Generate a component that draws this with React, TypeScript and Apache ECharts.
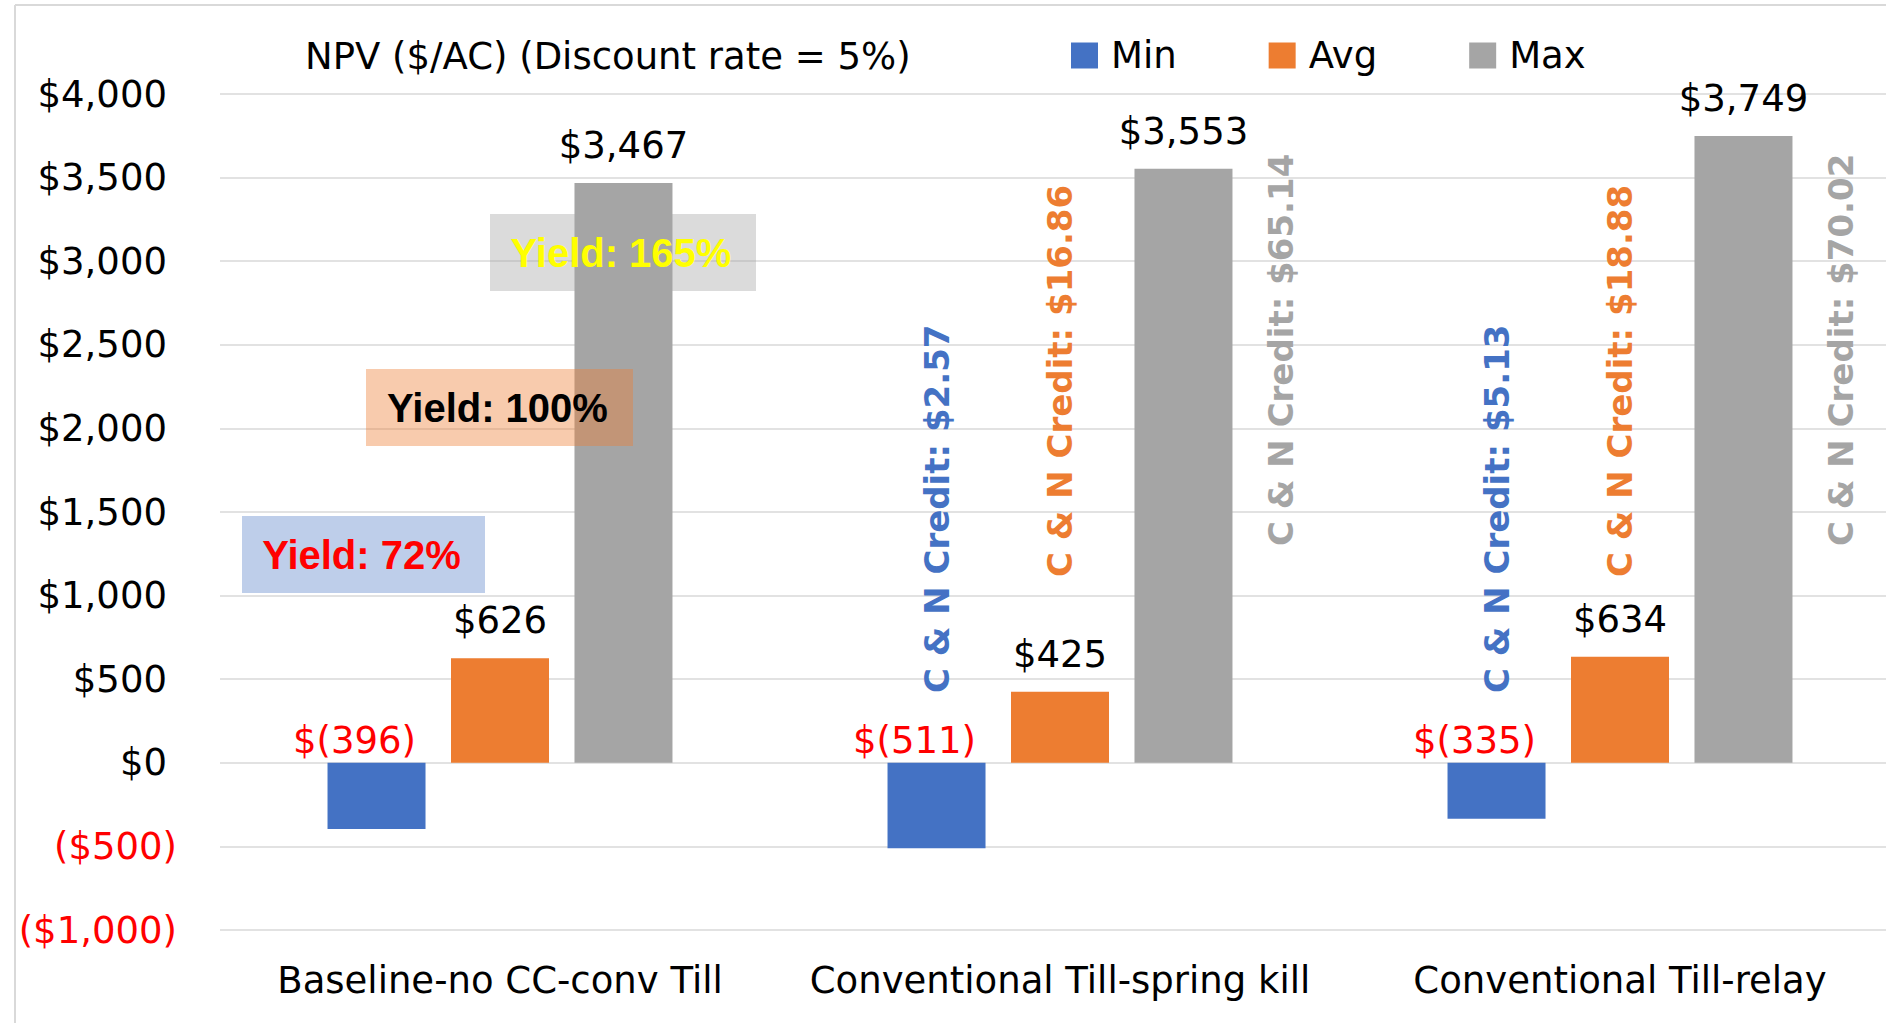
import React, { useEffect, useRef } from "react";
import * as echarts from "echarts";

// NPV per acre for three tillage / cover-crop systems
const categories = [
  "Baseline-no CC-conv Till",
  "Conventional Till-spring kill",
  "Conventional Till-relay",
];
const seriesNames = ["Min", "Avg", "Max"];
const minValues = [-396, -511, -335];
const avgValues = [626, 425, 634];
const maxValues = [3467, 3553, 3749];

// Carbon & nitrogen credit per scenario (none for the baseline)
const creditMin: (number | null)[] = [null, 2.57, 5.13];
const creditAvg: (number | null)[] = [null, 16.86, 18.88];
const creditMax: (number | null)[] = [null, 65.14, 70.02];

const yieldNotes = ["Yield: 72%", "Yield: 100%", "Yield: 165%"];

const yMin = -1000;
const yMax = 4000;
const yStep = 500;

const COLORS = ["#4472C4", "#ED7D31", "#A5A5A5"];
const FONT = '"DejaVu Sans", sans-serif';

const fmtThousands = (v: number) => Math.abs(v).toLocaleString("en-US");

export default function App() {
  const ref = useRef<HTMLDivElement>(null);

  useEffect(() => {
    if (!ref.current) return;
    const chart = echarts.init(ref.current, null, { renderer: "svg" });

    const valueLabel = {
      show: true,
      position: "top",
      distance: 19,
      color: "#000",
      fontSize: 37,
      fontFamily: FONT,
      formatter: (p: any) => `$${fmtThousands(p.value)}`,
    };

    const option: any = {
      animation: false,
      backgroundColor: "#fff",
      textStyle: { fontFamily: FONT },
      title: {
        text: "NPV ($/AC) (Discount rate = 5%)",
        left: 300,
        top: 33,
        textStyle: { fontSize: 37, fontWeight: "normal", color: "#000", fontFamily: FONT },
      },
      legend: {
        data: seriesNames,
        left: 1071,
        top: 37,
        padding: 0,
        itemWidth: 27,
        itemHeight: 26,
        itemGap: 92,
        icon: "rect",
        textStyle: { fontSize: 37, color: "#000", fontFamily: FONT, padding: [0, 0, 0, 8] },
      },
      grid: { left: 220, right: 0, top: 94, bottom: 93, containLabel: false },
      xAxis: {
        type: "category",
        data: categories,
        axisLine: { show: false },
        axisTick: { show: false },
        axisLabel: { fontSize: 37, color: "#000", margin: 32, fontFamily: FONT, interval: 0 },
        splitLine: { show: false },
      },
      yAxis: {
        type: "value",
        min: yMin,
        max: yMax,
        interval: yStep,
        axisLine: { show: false },
        axisTick: { show: false },
        splitLine: { show: true, lineStyle: { color: "#D9D9D9", width: 1.5 } },
        axisLabel: {
          margin: 43,
          fontSize: 37,
          fontFamily: FONT,
          formatter: (v: number) =>
            v < 0 ? `{neg|($${fmtThousands(v)})}` : `{pos|$${fmtThousands(v)}}{pad| }`,
          rich: {
            neg: { color: "#FF0000", fontSize: 37, fontFamily: FONT },
            pos: { color: "#000", fontSize: 37, fontFamily: FONT },
            pad: { color: "transparent", fontSize: 37, fontFamily: FONT, width: 10 },
          },
        },
      },
      series: [
        {
          name: seriesNames[0],
          type: "bar",
          data: minValues,
          barWidth: 98,
          barGap: "26%",
          itemStyle: { color: COLORS[0] },
          label: {
            show: true,
            position: "top",
            distance: 4,
            offset: [-22, 0],
            color: "#FF0000",
            fontSize: 37,
            fontFamily: FONT,
            formatter: (p: any) => `$(${fmtThousands(p.value)})`,
          },
        },
        {
          name: seriesNames[1],
          type: "bar",
          data: avgValues,
          barWidth: 98,
          barGap: "26%",
          itemStyle: { color: COLORS[1] },
          label: valueLabel,
        },
        {
          name: seriesNames[2],
          type: "bar",
          data: maxValues,
          barWidth: 98,
          barGap: "26%",
          itemStyle: { color: COLORS[2] },
          label: valueLabel,
        },
      ],
    };

    chart.setOption(option);

    // Annotations: rotated credit labels tied to the bars, yield call-out boxes, frame lines
    const graphics: any[] = [];
    const model = (chart as any).getModel();
    const yPx = (v: number) => chart.convertToPixel({ yAxisIndex: 0 }, v) as number;
    const credits = [creditMin, creditAvg, creditMax];
    // value on the axis where each rotated label starts, and its shift in bar widths
    const creditStart = [417, 1111, 1297];
    const creditShift = [0, 0, 1];
    credits.forEach((arr, s) => {
      const data = model.getSeriesByIndex(s).getData();
      arr.forEach((c, i) => {
        if (c == null) return;
        const r = data.getItemLayout(i);
        const cx = r.x + r.width / 2 + creditShift[s] * r.width;
        graphics.push({
          type: "text",
          x: cx,
          y: yPx(creditStart[s]),
          rotation: Math.PI / 2,
          z: 100,
          style: {
            text: `C & N Credit: $${c.toFixed(2)}`,
            fill: COLORS[s],
            fontSize: 34,
            fontWeight: "bold",
            fontFamily: FONT,
            align: "left",
            verticalAlign: "middle",
          },
        });
      });
    });

    const boxes = [
      { x: 242, y: 516, w: 243, h: 77, fill: "rgba(68,114,196,0.35)", color: "#FF0000" },
      { x: 366, y: 369, w: 267, h: 77, fill: "rgba(237,125,49,0.4)", color: "#000000" },
      { x: 490, y: 214, w: 266, h: 77, fill: "rgba(165,165,165,0.4)", color: "#FFFF00" },
    ];
    boxes.forEach((b, i) => {
      graphics.push({
        type: "rect",
        z: 100,
        shape: { x: b.x, y: b.y, width: b.w, height: b.h },
        style: { fill: b.fill },
      });
      graphics.push({
        type: "text",
        z: 101,
        x: b.x + b.w / 2 - 2,
        y: b.y + b.h / 2,
        style: {
          text: yieldNotes[i],
          fill: b.color,
          fontSize: 40,
          fontWeight: "bold",
          fontFamily: '"Liberation Sans", sans-serif',
          align: "center",
          verticalAlign: "middle",
        },
      });
    });

    graphics.push({
      type: "line",
      z: 100,
      shape: { x1: 15, y1: 5, x2: 1900, y2: 5 },
      style: { stroke: "#D9D9D9", lineWidth: 2 },
    });
    graphics.push({
      type: "line",
      z: 100,
      shape: { x1: 15, y1: 5, x2: 15, y2: 1023 },
      style: { stroke: "#D9D9D9", lineWidth: 2 },
    });

    chart.setOption({ graphic: graphics });

    return () => chart.dispose();
  }, []);

  // The plot runs slightly past the right edge of the visible frame
  return (
    <div
      style={{
        position: "fixed",
        left: 0,
        top: 0,
        width: 1886,
        height: 1023,
        overflow: "hidden",
        background: "#fff",
      }}
    >
      <div ref={ref} style={{ width: 1900, height: 1023 }} />
    </div>
  );
}
